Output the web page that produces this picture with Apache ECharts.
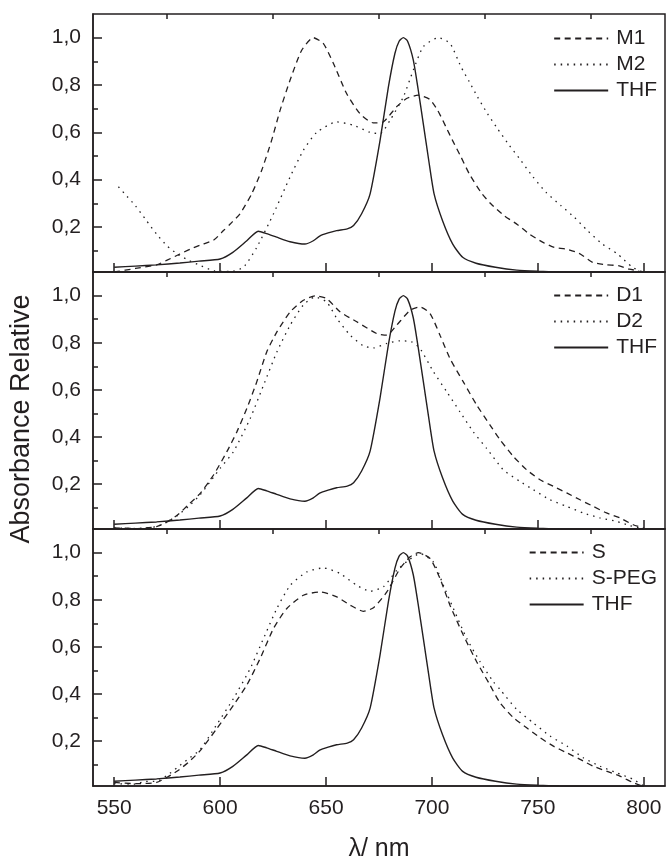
<!DOCTYPE html>
<html><head><meta charset="utf-8">
<script src="https://cdn.jsdelivr.net/npm/echarts@6/dist/echarts.min.js"></script>
<style>html,body{margin:0;padding:0;background:#fff}#c{width:666px;height:861px}</style>
</head><body><div id="c"></div>
<script>
// ---- data (wavelength nm / relative absorbance) ----
const thfX = [550,560,570,581,590,600,606,612.6,618,622,626.7,633,640,644,647,651,655,660,663,666.8,670.8,675.5,679.4,682.5,684.5,686.5,688.5,691.2,693.5,695.9,698.5,701,705,709.8,714.5,720.8,730,740,750,760,775,790,800];
const thfY = [0.03,0.035,0.04,0.048,0.056,0.065,0.093,0.142,0.182,0.172,0.157,0.138,0.128,0.142,0.162,0.175,0.185,0.192,0.206,0.256,0.34,0.566,0.79,0.933,0.985,1.0,0.985,0.905,0.78,0.637,0.48,0.34,0.227,0.128,0.072,0.047,0.03,0.018,0.013,0.01,0.008,0.008,0.008];

const m1X = [550,560,570,575,581,586,591,597,601.6,605,609.4,614.9,619.6,624.3,628.3,633,638.5,644,648.7,653.5,659.7,666,672.3,677,683.3,688,693.5,699,702.7,706.6,709.7,713.7,717.6,723.1,727.8,734.1,740.4,745.9,752.2,757.7,763.2,769.5,775.8,782.1,788.4,793.1,797.8];
const m1Y = [0.01,0.025,0.04,0.06,0.086,0.107,0.125,0.145,0.185,0.215,0.256,0.34,0.439,0.566,0.693,0.82,0.947,1.0,0.976,0.891,0.764,0.679,0.64,0.644,0.708,0.743,0.757,0.739,0.693,0.623,0.566,0.496,0.425,0.347,0.298,0.248,0.21,0.171,0.136,0.114,0.107,0.089,0.051,0.041,0.036,0.022,0.015];

const m2X = [552,555,560,565,570,575,580,585,590,597,605,611,617.3,625.2,633,639.3,645.6,655,662.9,670.8,675.5,680.2,686.5,691.2,695.9,703,708.5,713.7,717.6,721.5,726.2,730.9,736.5,742,747.5,753.8,760.8,767.1,773.4,780.5,787.6,794.6,799];
const m2Y = [0.37,0.34,0.29,0.23,0.17,0.12,0.085,0.06,0.04,0.015,0.012,0.03,0.114,0.256,0.411,0.524,0.6,0.644,0.63,0.6,0.594,0.651,0.75,0.863,0.962,1.0,0.976,0.877,0.814,0.75,0.679,0.616,0.545,0.481,0.414,0.347,0.291,0.242,0.185,0.128,0.086,0.03,0.012];

const d1X = [550,560,570,575,580,585,590.6,596.9,603.2,607.9,612.6,617.3,622,626.8,633.1,639.3,644.8,650.3,656.6,664.5,673.9,678.7,683.4,689.7,694.4,699.1,703.8,708.5,714.8,721.1,727.4,732.1,738.4,744.7,751,757.3,763.6,769.9,776.1,782.4,788.7,795,800];
const d1Y = [0.015,0.012,0.02,0.04,0.07,0.113,0.161,0.239,0.338,0.422,0.521,0.634,0.761,0.846,0.931,0.98,0.999,0.987,0.931,0.889,0.839,0.832,0.875,0.938,0.952,0.924,0.832,0.733,0.634,0.536,0.451,0.389,0.318,0.261,0.219,0.191,0.163,0.134,0.106,0.078,0.057,0.028,0.014];

const d2X = [550,560,570,575,580,585,590.6,600,606.3,614.2,620.5,626.8,633.1,639.3,644.8,650.3,655.1,661.4,667.6,672.4,678.7,684.9,690.4,694.4,700.7,707,713.2,719.5,725.8,733.7,741.5,747.8,755.7,763.6,771.4,779.3,787.2,793.5,800];
const d2Y = [0.015,0.012,0.02,0.04,0.068,0.105,0.155,0.267,0.338,0.479,0.62,0.761,0.875,0.96,0.994,0.973,0.903,0.832,0.787,0.778,0.797,0.808,0.804,0.775,0.677,0.592,0.507,0.422,0.352,0.261,0.212,0.177,0.134,0.106,0.078,0.057,0.042,0.024,0.01];

const sX = [550,560,570,575,580,585,590.6,598.5,606.3,612.6,618.9,625.2,631.5,639.3,647.2,655.1,661.4,667.6,672.4,678.7,684.9,689.7,693.6,699.1,703.8,708.5,714.8,721.1,727.4,732.1,738.4,744.7,751,757.3,763.6,769.9,776.1,782.4,788.7,795,800];
const sY = [0.025,0.02,0.025,0.047,0.075,0.11,0.16,0.254,0.353,0.438,0.551,0.678,0.763,0.819,0.833,0.812,0.777,0.751,0.766,0.833,0.932,0.982,1.0,0.975,0.89,0.777,0.65,0.537,0.438,0.363,0.3,0.257,0.215,0.179,0.151,0.123,0.094,0.073,0.052,0.024,0.008];

const spX = [550,560,565,570,575,580,585,590.6,598,606.3,614.2,620.5,626.8,633.1,640.9,648.8,656.6,664.5,670.8,677.1,683.4,688.9,694.4,700.7,705.4,710.1,716.4,722.7,729,732.1,740,747.8,755.7,763.6,771.4,779.3,787.2,795,800];
const spY = [0.02,0.018,0.03,0.03,0.055,0.09,0.125,0.165,0.265,0.381,0.508,0.636,0.763,0.861,0.918,0.935,0.911,0.861,0.836,0.855,0.925,0.967,0.996,0.96,0.861,0.763,0.636,0.537,0.452,0.42,0.335,0.278,0.222,0.18,0.13,0.094,0.066,0.038,0.01];

const xMajorTicks = [550,600,650,700,750,800];
const xMinorTicks = [575,625,675,725,775];
const yMajorTicks = [0.2,0.4,0.6,0.8,1.0];
const yMinorTicks = [0.1,0.3,0.5,0.7,0.9];

const panelNames = [['M1','M2','THF'],['D1','D2','THF'],['S','S-PEG','THF']];
const xLabel = 'λ/ nm';
const yLabel = 'Absorbance Relative';

// ---- chart ----
const C = '#231f20';
const FONT = '"Liberation Sans", Arial, sans-serif';
const pairs = (xs, ys) => xs.map((x, i) => [x, ys[i]]);
const panels = [
  [pairs(m1X, m1Y), pairs(m2X, m2Y), pairs(thfX, thfY)],
  [pairs(d1X, d1Y), pairs(d2X, d2Y), pairs(thfX, thfY)],
  [pairs(sX, sY), pairs(spX, spY), pairs(thfX, thfY)]
];
const styles = [[6, 4.5], [1.5, 5], 'solid'];
const gridPos = [{top: 14, height: 258}, {top: 272, height: 257}, {top: 529, height: 257}];
const legendTop = [28, 285, 542];

const grid = [], xAxis = [], yAxis = [], series = [], legend = [];
gridPos.forEach((g, i) => {
  grid.push({left: 93, right: 1, top: g.top, height: g.height, show: true,
    borderColor: C, borderWidth: 1.5, backgroundColor: 'transparent'});
});
for (let i = 0; i < 3; i++) {
  xAxis.push({type: 'value', gridIndex: i, min: 540, max: 810,
    axisLine: {show: true, onZero: false, lineStyle: {color: C, width: 1.5}},
    axisTick: {show: true, inside: true, length: 9, customValues: xMajorTicks, lineStyle: {color: C, width: 1.5}},
    axisLabel: {show: i === 2, customValues: xMajorTicks, fontSize: 21, color: C, fontFamily: FONT, margin: 12},
    splitLine: {show: false}});
  yAxis.push({type: 'value', gridIndex: i, min: 0.01, max: 1.1,
    axisLine: {show: true, onZero: false, lineStyle: {color: C, width: 1.5}},
    axisTick: {show: true, inside: true, length: 9, customValues: yMajorTicks, lineStyle: {color: C, width: 1.5}},
    axisLabel: {show: true, customValues: yMajorTicks, fontSize: 21, color: C, fontFamily: FONT, margin: 12,
      formatter: v => v.toFixed(1).replace('.', ',')},
    splitLine: {show: false}});
}
for (let i = 0; i < 3; i++) {
  xAxis.push({type: 'value', gridIndex: i, min: 540, max: 810,
    axisLine: {show: false, onZero: false},
    axisTick: {show: true, inside: true, length: 5, customValues: xMinorTicks, lineStyle: {color: C, width: 1.5}},
    axisLabel: {show: false}, splitLine: {show: false}});
  yAxis.push({type: 'value', gridIndex: i, min: 0.01, max: 1.1, position: 'left',
    axisLine: {show: false, onZero: false},
    axisTick: {show: true, inside: true, length: 5, customValues: yMinorTicks, lineStyle: {color: C, width: 1.5}},
    axisLabel: {show: false}, splitLine: {show: false}});
}
panels.forEach((p, i) => {
  p.forEach((data, k) => {
    series.push({type: 'line', name: panelNames[i][k], xAxisIndex: i, yAxisIndex: i,
      data: data, symbol: 'none', showSymbol: false, smooth: 0.2, animation: false,
      color: C, itemStyle: {color: C},
      lineStyle: {color: C, width: k === 2 ? 1.4 : 1.3, type: styles[k]}});
  });
  legend.push({orient: 'vertical', right: 9, top: legendTop[i], data: panelNames[i],
    itemWidth: 54, itemHeight: 14, itemGap: 5, selectedMode: false, padding: 0,
    itemStyle: {opacity: 0},
    textStyle: {fontSize: 21, color: C, fontFamily: FONT, padding: [0, 0, 0, 3]}});
});

const chart = echarts.init(document.getElementById('c'), null, {renderer: 'canvas'});
chart.setOption({
  backgroundColor: '#fff',
  animation: false,
  color: [C],
  grid, xAxis, yAxis, series, legend,
  graphic: [
    {type: 'text', x: 22, y: 419, rotation: Math.PI / 2,
      style: {text: yLabel, fontSize: 27, fontFamily: FONT, fill: C, align: 'center', verticalAlign: 'middle'}},
    {type: 'text', x: 379, y: 849,
      style: {text: xLabel, fontSize: 25, fontFamily: FONT, fill: C, align: 'center', verticalAlign: 'middle'}}
  ]
});
</script>
</body></html>
